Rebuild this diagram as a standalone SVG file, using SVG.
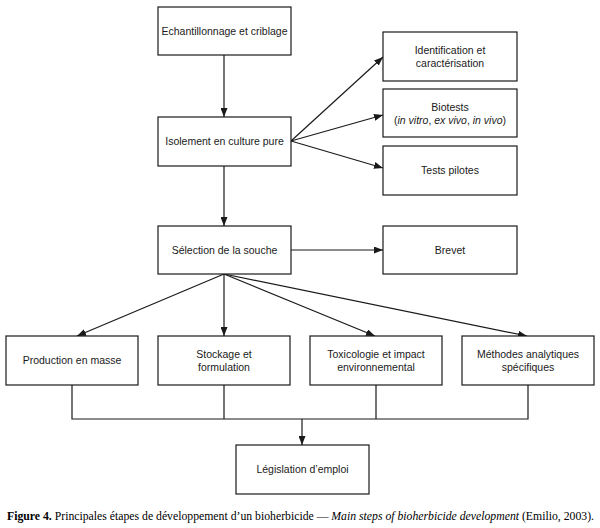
<svg xmlns="http://www.w3.org/2000/svg" width="600" height="528" viewBox="0 0 600 528">
<style>
.box{fill:#fff;stroke:#1a1a1a;stroke-width:1.2}
.t{font-family:"Liberation Sans",Arial,sans-serif;font-size:10.5px;fill:#1a1a1a;text-anchor:middle}
.c{fill:none;stroke:#1a1a1a;stroke-width:1.2}
.cap{font-family:"Liberation Serif","Times New Roman",serif;font-size:11.5px;fill:#000}
</style>
<defs>
<marker id="ah" viewBox="0 0 10 10" refX="10" refY="5" markerWidth="9" markerHeight="7" markerUnits="userSpaceOnUse" orient="auto" preserveAspectRatio="none">
<path d="M0,0 L10,5 L0,10 z" fill="#1a1a1a"/>
</marker>
</defs>
<rect width="600" height="528" fill="#fff"/>
<g id="connectors">
<line class="c" x1="224" y1="55" x2="224" y2="117" marker-end="url(#ah)"/>
<line class="c" x1="291" y1="141" x2="383" y2="57" marker-end="url(#ah)"/>
<line class="c" x1="291" y1="141" x2="383" y2="115" marker-end="url(#ah)"/>
<line class="c" x1="291" y1="141" x2="383" y2="168" marker-end="url(#ah)"/>
<line class="c" x1="224" y1="166" x2="224" y2="226" marker-end="url(#ah)"/>
<line class="c" x1="291" y1="250" x2="383" y2="250" marker-end="url(#ah)"/>
<line class="c" x1="224" y1="274" x2="77" y2="336" marker-end="url(#ah)"/>
<line class="c" x1="224" y1="274" x2="224" y2="336" marker-end="url(#ah)"/>
<line class="c" x1="224" y1="274" x2="375" y2="336" marker-end="url(#ah)"/>
<line class="c" x1="224" y1="274" x2="527" y2="336" marker-end="url(#ah)"/>
<path class="c" d="M72,385 V419 H528 V385 M224,385 V419 M376,385 V419"/>
<line class="c" x1="302" y1="419" x2="302" y2="445" marker-end="url(#ah)"/>
</g>
<g id="n1"><rect class="box" x="158" y="7" width="133" height="48"/><text class="t" x="224.5" y="35">Echantillonnage et criblage</text></g>
<g id="n2"><rect class="box" x="158" y="117" width="133" height="49"/><text class="t" x="224.5" y="145">Isolement en culture pure</text></g>
<g id="n3"><rect class="box" x="383" y="32" width="134" height="49"/><text class="t" x="450" y="54">Identification et</text><text class="t" x="450" y="67">caractérisation</text></g>
<g id="n4"><rect class="box" x="383" y="89" width="134" height="48"/><text class="t" x="450" y="111">Biotests</text><text class="t" x="450" y="124">(<tspan font-style="italic">in vitro</tspan>, <tspan font-style="italic">ex vivo</tspan>, <tspan font-style="italic">in vivo</tspan>)</text></g>
<g id="n5"><rect class="box" x="383" y="146" width="134" height="49"/><text class="t" x="450" y="174">Tests pilotes</text></g>
<g id="n6"><rect class="box" x="158" y="226" width="133" height="48"/><text class="t" x="224.5" y="254">Sélection de la souche</text></g>
<g id="n7"><rect class="box" x="383" y="226" width="134" height="48"/><text class="t" x="450" y="254">Brevet</text></g>
<g id="n8"><rect class="box" x="6" y="336" width="132" height="49"/><text class="t" x="72" y="364">Production en masse</text></g>
<g id="n9"><rect class="box" x="158" y="336" width="132" height="49"/><text class="t" x="224" y="358">Stockage et</text><text class="t" x="224" y="371">formulation</text></g>
<g id="n10"><rect class="box" x="310" y="336" width="132" height="49"/><text class="t" x="376" y="358">Toxicologie et impact</text><text class="t" x="376" y="371">environnemental</text></g>
<g id="n11"><rect class="box" x="462" y="336" width="132" height="49"/><text class="t" x="528" y="358">Méthodes analytiques</text><text class="t" x="528" y="371">spécifiques</text></g>
<g id="n12"><rect class="box" x="236" y="445" width="133" height="49"/><text class="t" x="302.5" y="473">Législation d’emploi</text></g>
<text class="cap" x="7" y="520" textLength="587" lengthAdjust="spacingAndGlyphs"><tspan font-weight="bold">Figure 4.</tspan> Principales étapes de développement d’un bioherbicide — <tspan font-style="italic">Main steps of bioherbicide development</tspan> (Emilio, 2003).</text>
</svg>
